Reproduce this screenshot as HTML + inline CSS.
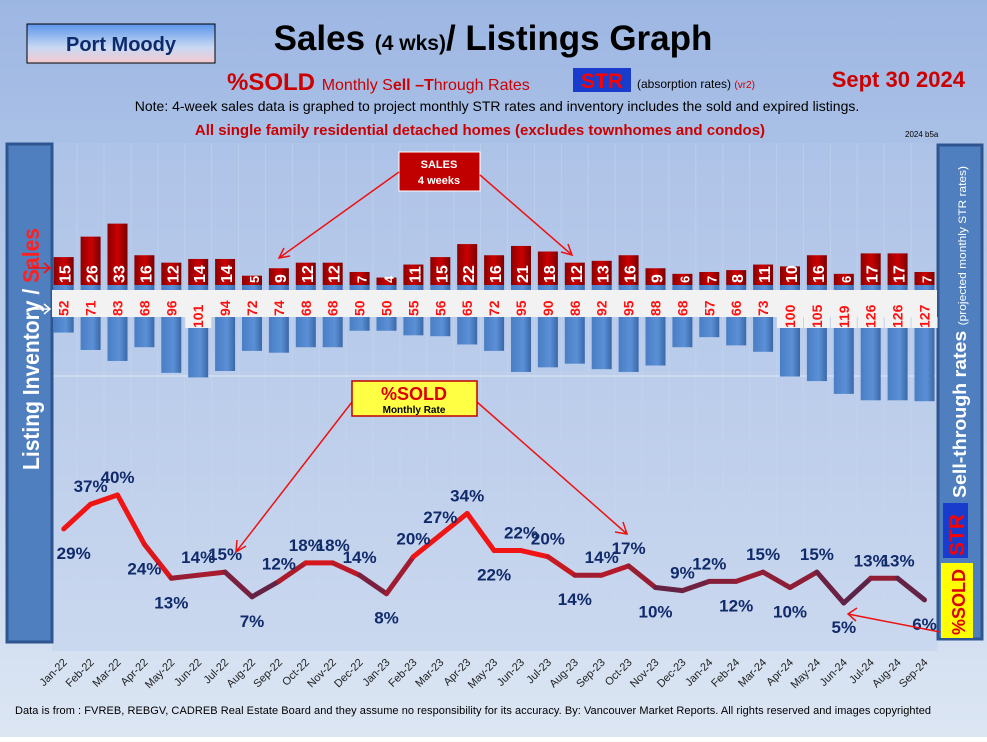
<!DOCTYPE html>
<html><head><meta charset="utf-8"><style>
body{margin:0;width:987px;height:737px;overflow:hidden;font-family:"Liberation Sans",sans-serif}
</style></head><body>
<svg id="chart" width="987" height="737" xmlns="http://www.w3.org/2000/svg" font-family="Liberation Sans, sans-serif">
<defs>
<linearGradient id="bg" x1="0" y1="0" x2="0" y2="1"><stop offset="0" stop-color="#9db7e3"/><stop offset="1" stop-color="#dce6f3"/></linearGradient>
<linearGradient id="pm" x1="0" y1="0" x2="0" y2="1"><stop offset="0" stop-color="#5b95ea"/><stop offset="0.6" stop-color="#c9d9f3"/><stop offset="1" stop-color="#f4c9cf"/></linearGradient>
<linearGradient id="redbar" x1="0" y1="0" x2="1" y2="0"><stop offset="0" stop-color="#8a0000"/><stop offset="0.5" stop-color="#cc0000"/><stop offset="1" stop-color="#7a0000"/></linearGradient>
<linearGradient id="bluebar" x1="0" y1="0" x2="1" y2="0"><stop offset="0" stop-color="#4a7ec4"/><stop offset="0.6" stop-color="#5b90d6"/><stop offset="1" stop-color="#3a68a8"/></linearGradient>
</defs>
<rect width="987" height="737" fill="url(#bg)"/>
<rect x="27" y="24" width="188" height="39" fill="url(#pm)" stroke="#000" stroke-width="1"/>
<text x="121" y="51" text-anchor="middle" font-size="20" font-weight="bold" fill="#0d2a6b">Port Moody</text>
<text x="493" y="50" text-anchor="middle" font-size="35" font-weight="bold" fill="#000">Sales <tspan font-size="21">(4 wks)</tspan>/ Listings Graph</text>
<text x="227" y="90" font-size="24" font-weight="bold" fill="#cc0000">%SOLD <tspan font-size="16" font-weight="normal">Monthly S</tspan><tspan font-size="16" font-weight="bold">ell –T</tspan><tspan font-size="16" font-weight="normal">hrough R</tspan><tspan font-size="16" font-weight="normal">ates</tspan></text>
<rect x="573" y="68" width="58" height="24" fill="#1a3ccc"/>
<text x="602" y="88" text-anchor="middle" font-size="21" font-weight="bold" fill="#ff0000">STR</text>
<text x="637" y="88" font-size="12" fill="#000">(absorption rates) <tspan fill="#cc0000" font-size="10">(vr2)</tspan></text>
<text x="965" y="87" text-anchor="end" font-size="22" font-weight="bold" fill="#cc0000">Sept  30  2024</text>
<text x="497" y="111" text-anchor="middle" font-size="14" fill="#000">Note: 4-week sales data is graphed to project monthly STR rates and inventory includes the sold and expired listings.</text>
<text x="480" y="135" text-anchor="middle" font-size="15" font-weight="bold" fill="#cc0000">All single family residential detached homes (excludes townhomes and condos)</text>
<text x="905" y="137" font-size="8" fill="#000">2024 b5a</text>
<rect x="52" y="143" width="885" height="508" fill="#b6c9ea" opacity="0.35"/>
<g id="grid" opacity="0.5"></g>
<line x1="52" y1="376" x2="937" y2="376" stroke="#dfe8f5" stroke-width="1"/>
<rect x="7" y="144" width="45" height="498" fill="#4f7fbf" stroke="#2f5590" stroke-width="3"/>
<text transform="translate(39,470) rotate(-90)" font-size="23" font-weight="bold" fill="#fff" textLength="242" lengthAdjust="spacingAndGlyphs">Listing Inventory / <tspan fill="#ff2020">Sales</tspan></text>
<rect x="938" y="145" width="44" height="494" fill="#4f7fbf" stroke="#2f5590" stroke-width="3"/>
<text transform="translate(966,498) rotate(-90)" font-size="18" font-weight="bold" fill="#fff" textLength="332" lengthAdjust="spacingAndGlyphs">Sell-through rates <tspan font-size="11" font-weight="normal">(projected monthly STR rates)</tspan></text>
<rect x="943" y="503" width="25" height="55" fill="#1a3ccc"/>
<text transform="translate(964,556) rotate(-90)" font-size="21" font-weight="bold" fill="#ff0000">STR</text>
<rect x="941" y="563" width="32" height="75" fill="#ffff00"/>
<text transform="translate(965,635) rotate(-90)" font-size="18" font-weight="bold" fill="#dd0000">%SOLD</text>
<g id="bars"></g>
<rect x="52" y="290" width="885" height="27" fill="#f2f2f2"/>
<g id="labels"></g>
<g id="line"></g>
<g id="xaxis"></g>
<rect x="399" y="152" width="81" height="39" fill="#c00000" stroke="#fff"/>
<text x="439" y="168" text-anchor="middle" font-size="11" font-weight="bold" fill="#fff">SALES</text>
<text x="439" y="184" text-anchor="middle" font-size="11" font-weight="bold" fill="#fff">4  weeks</text>
<g stroke="#ee1111" stroke-width="1.5" fill="none">
<line x1="399" y1="172" x2="279" y2="258"/>
<polyline points="284,248 279,258 290,256"/>
<line x1="480" y1="175" x2="572" y2="255"/>
<polyline points="561,252 572,255 568,244"/>
<line x1="352" y1="402" x2="236" y2="552"/>
<polyline points="237,540 236,552 246,546"/>
<line x1="477" y1="402" x2="627" y2="534"/>
<polyline points="615,532 627,534 623,522"/>
<line x1="940" y1="632" x2="848" y2="614"/>
<polyline points="857,608 848,614 856,621"/>
<line x1="28" y1="268" x2="50" y2="268"/>
<polyline points="44,263 50,268 44,273"/>
</g>
<g stroke="#fff" stroke-width="1.5" fill="none"><line x1="28" y1="309" x2="50" y2="309"/><polyline points="44,304 50,309 44,314"/></g>
<rect x="352" y="381" width="125" height="35" fill="#ffff44" stroke="#c00000" stroke-width="1.5"/>
<text x="414" y="400" text-anchor="middle" font-size="18" font-weight="bold" fill="#dd0000">%SOLD</text>
<text x="414" y="413" text-anchor="middle" font-size="10" font-weight="bold" fill="#000">Monthly Rate</text>
<text x="15" y="714" font-size="11" fill="#000" textLength="916">Data is from : FVREB, REBGV, CADREB Real Estate Board and they assume no responsibility for its accuracy. By: Vancouver Market Reports. All rights reserved and  images copyrighted</text>
</svg>
<script>
const months=["Jan-22","Feb-22","Mar-22","Apr-22","May-22","Jun-22","Jul-22","Aug-22","Sep-22","Oct-22","Nov-22","Dec-22","Jan-23","Feb-23","Mar-23","Apr-23","May-23","Jun-23","Jul-23","Aug-23","Sep-23","Oct-23","Nov-23","Dec-23","Jan-24","Feb-24","Mar-24","Apr-24","May-24","Jun-24","Jul-24","Aug-24","Sep-24"];
const sales=[15,26,33,16,12,14,14,5,9,12,12,7,4,11,15,22,16,21,18,12,13,16,9,6,7,8,11,10,16,6,17,17,7];
const listings=[52,71,83,68,96,101,94,72,74,68,68,50,50,55,56,65,72,95,90,86,92,95,88,68,57,66,73,100,105,119,126,126,127];
const str=[29,37,40,24,13,14,15,7,12,18,18,14,8,20,27,34,22,22,20,14,14,17,10,9,12,12,15,10,15,5,13,13,6];
const labelSide=["b","a","a","b","b","a","a","b","a","a","a","a","b","a","a","a","b","a","a","b","a","a","b","a","a","b","a","b","a","b","a","a","b"];
const NS="http://www.w3.org/2000/svg";
const xS=i=>63.7+i*26.9;
const base=285;
const ySale=v=>base-v*1.86;
const yList=v=>base+v*0.915;
const yStr=v=>618.4-v*3.086;
function mk(tag,attrs,parent,txt){const e=document.createElementNS(NS,tag);for(const k in attrs)e.setAttribute(k,attrs[k]);if(txt!==undefined)e.textContent=txt;document.getElementById(parent).appendChild(e);return e;}
months.forEach((m,i)=>{
  const x=xS(i);
  const g=mk('line',{x1:x+13.45,y1:143,x2:x+13.45,y2:651,stroke:'#c9d7ee','stroke-width':1},'grid');
  
  
  const lb=mk('rect',{x:x-10,y:base,width:20,height:yList(listings[i])-base,fill:'url(#bluebar)'},'bars');
  
  
  const sb=mk('rect',{x:x-10,y:ySale(sales[i]),width:20,height:base-ySale(sales[i]),fill:'url(#redbar)'},'bars');
  
  
  const sv=String(sales[i]);
  const st=mk('text',{transform:`translate(${x+7},${base-2}) rotate(-90)`,'font-size':sales[i]<8?13:16,'font-weight':'bold',fill:'#fff'},'labels',sv);
  
  
  const lv=String(listings[i]);
  if(lv.length>2){const wb=mk('rect',{x:x-13,y:317,width:26,height:11,fill:'#f2f2f2'},'labels');
    
    }
  const lt=mk('text',{transform:`translate(${x+5},${lv.length>2?328:316}) rotate(-90)`,'font-size':14,'font-weight':'bold',fill:'#ff1010'},'labels',lv);
  
  
  const xl=mk('text',{transform:`translate(${x+4},${663}) rotate(-45)`,'text-anchor':'end','font-size':11,fill:'#222'},'xaxis',m);
  
  
});
function col(v){const t=Math.min(1,Math.max(0,(v-5)/15));const a=[40,40,90],b=[240,20,20];return `rgb(${a.map((c,k)=>Math.round(c+(b[k]-c)*t)).join(',')})`;}
for(let i=0;i<str.length-1;i++){
  const s=mk('line',{x1:xS(i),y1:yStr(str[i]),x2:xS(i+1),y2:yStr(str[i+1]),stroke:col((str[i]+str[i+1])/2),'stroke-width':5,'stroke-linecap':'round'},'line');
  
  
}
str.forEach((v,i)=>{
  const y=yStr(v);const above=labelSide[i]==='a';
  const t=mk('text',{x:xS(i)+(i===0?10:0),y:above?y-12:y+30,'text-anchor':'middle','font-size':17,'font-weight':'bold',fill:'#102a6a'},'line',v+'%');
  
  
});
</script>
</body></html>
